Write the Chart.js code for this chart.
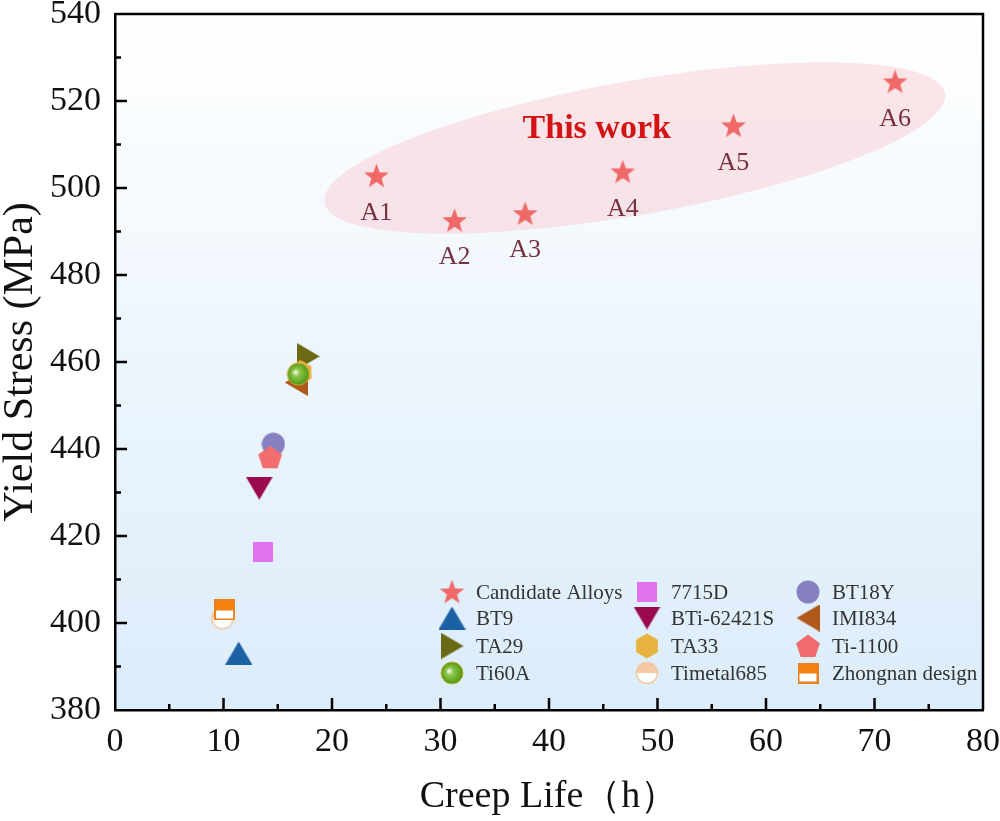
<!DOCTYPE html>
<html lang="en">
<head>
<meta charset="UTF-8">
<title>Yield Stress vs Creep Life</title>
<script src="https://cdn.jsdelivr.net/npm/chart.js"></script>
<style>
  html, body { margin: 0; padding: 0; background: #fff; }
  #wrap { width: 1000px; height: 821px; }
</style>
</head>
<body>
<div id="wrap"><canvas id="grafico"></canvas></div>
<script>
  // candidate alloys (this work)
  const candLabels = ['A1', 'A2', 'A3', 'A4', 'A5', 'A6'];
  const candCreep = [24.1, 31.3, 37.8, 46.8, 57.0, 71.9];
  const candYield = [502.8, 492.5, 494.1, 503.7, 514.3, 524.4];

  // reference alloys
  const refNames = ['BT9', 'TA29', 'Ti60A', '7715D', 'BTi-62421S', 'TA33', 'Timetal685', 'BT18Y', 'IMI834', 'Ti-1100', 'Zhongnan design'];
  const refCreep = [11.4, 17.8, 16.9, 13.6, 13.3, 17.1, 9.9, 14.6, 16.7, 14.3, 10.1];
  const refYield = [393.1, 461.3, 457.2, 416.3, 431.0, 457.6, 401.1, 441.1, 455.3, 438.1, 403.0];

  // axis ticks
  const xTicks = [0, 10, 20, 30, 40, 50, 60, 70, 80];
  const yTicks = [380, 400, 420, 440, 460, 480, 500, 520, 540];

  // legend, read column by column
  const legendCols = [
    ['Candidate Alloys', 'BT9', 'TA29', 'Ti60A'],
    ['7715D', 'BTi-62421S', 'TA33', 'Timetal685'],
    ['BT18Y', 'IMI834', 'Ti-1100', 'Zhongnan design']
  ];

  // ---- marker images ----
  function marker(w, h, paint) {
    const c = document.createElement('canvas');
    c.width = w; c.height = h;
    paint(c.getContext('2d'), w, h);
    return c;
  }
  function poly(g, pts, color) {
    g.beginPath();
    pts.forEach((p, i) => i ? g.lineTo(p[0], p[1]) : g.moveTo(p[0], p[1]));
    g.closePath();
    g.fillStyle = color;
    g.fill();
  }
  function regular(n, r, cx, cy, rot) {
    const pts = [];
    for (let i = 0; i < n; i++) {
      const a = rot + i * 2 * Math.PI / n;
      pts.push([cx + r * Math.cos(a), cy + r * Math.sin(a)]);
    }
    return pts;
  }

  const markers = {
    'Candidate Alloys': marker(27, 27, (g) => {
      const pts = [];
      for (let i = 0; i < 10; i++) {
        const r = i % 2 ? 5.4 : 13;
        const a = -Math.PI / 2 + i * Math.PI / 5;
        pts.push([13.5 + r * Math.cos(a), 14.3 + r * Math.sin(a)]);
      }
      poly(g, pts, '#ef6969');
    }),
    'BT9': marker(27, 23, (g) => poly(g, [[13.5, 0], [27, 23], [0, 23]], '#1d61a5')),
    'TA29': marker(23, 27, (g) => poly(g, [[0, 0], [23, 13.5], [0, 27]], '#6b6913')),
    'Ti60A': marker(24, 24, (g) => {
      const grad = g.createRadialGradient(9, 10, 1, 12, 12, 12);
      grad.addColorStop(0, '#e8f5d8');
      grad.addColorStop(0.25, '#8cc64a');
      grad.addColorStop(0.8, '#5b9f1c');
      grad.addColorStop(1, '#3f7a0e');
      g.beginPath(); g.arc(12, 12, 11, 0, Math.PI * 2);
      g.fillStyle = grad; g.fill();
      g.lineWidth = 1; g.strokeStyle = '#c9b33a'; g.stroke();
    }),
    '7715D': marker(20, 20, (g) => { g.fillStyle = '#e173ef'; g.fillRect(0, 0, 20, 20); }),
    'BTi-62421S': marker(27, 23, (g) => poly(g, [[0, 0], [27, 0], [13.5, 23]], '#9a0a4e')),
    'TA33': marker(24, 26, (g) => poly(g, regular(6, 12.5, 12, 13, -Math.PI / 2), '#e8b23e')),
    'Timetal685': marker(24, 24, (g) => {
      g.beginPath(); g.arc(12, 12, 10.5, 0, Math.PI * 2);
      g.fillStyle = '#ffffff'; g.fill();
      g.beginPath(); g.arc(12, 12, 10.5, Math.PI, 0); g.closePath();
      g.fillStyle = '#f5c9a3'; g.fill();
      g.beginPath(); g.arc(12, 12, 10.5, 0, Math.PI * 2);
      g.lineWidth = 1.5; g.strokeStyle = '#f1c7a0'; g.stroke();
    }),
    'BT18Y': marker(24, 24, (g) => {
      g.beginPath(); g.arc(12, 12, 11.5, 0, Math.PI * 2);
      g.fillStyle = '#8581c1'; g.fill();
    }),
    'IMI834': marker(23, 27, (g) => poly(g, [[23, 0], [0, 13.5], [23, 27]], '#b0581b')),
    'Ti-1100': marker(26, 26, (g) => poly(g, regular(5, 12.5, 13, 14, -Math.PI / 2), '#f26d6d')),
    'Zhongnan design': marker(21, 21, (g) => {
      g.fillStyle = '#ffffff'; g.fillRect(1, 1, 19, 19);
      g.fillStyle = '#f5820f'; g.fillRect(1, 1, 19, 10);
      g.lineWidth = 2; g.strokeStyle = '#e7821e'; g.strokeRect(1, 1, 19, 19);
    })
  };

  // z order: lower number ends up on top
  const zOrder = {
    'BT9': 5, 'TA29': 8, 'Ti60A': 2, '7715D': 5, 'BTi-62421S': 5, 'TA33': 7,
    'Timetal685': 6, 'BT18Y': 6, 'IMI834': 7, 'Ti-1100': 3, 'Zhongnan design': 3
  };

  const datasets = [{
    label: 'Candidate Alloys',
    data: candCreep.map((x, i) => ({ x: x, y: candYield[i] })),
    pointStyle: markers['Candidate Alloys'],
    pointRadius: 13,
    order: 1
  }];
  refNames.forEach((nome, i) => {
    datasets.push({
      label: nome,
      data: [{ x: refCreep[i], y: refYield[i] }],
      pointStyle: markers[nome],
      pointRadius: 12,
      order: zOrder[nome]
    });
  });

  const serif = '"Liberation Serif", "Times New Roman", serif';

  const fundo = {
    id: 'fundo',
    beforeDraw(chart) {
      const { ctx, chartArea: a } = chart;
      const grad = ctx.createLinearGradient(0, a.top, 0, a.bottom);
      grad.addColorStop(0, '#ffffff');
      grad.addColorStop(1, '#dbecfa');
      ctx.save();
      ctx.fillStyle = grad;
      ctx.fillRect(a.left, a.top, a.right - a.left, a.bottom - a.top);
      ctx.restore();
    },
    beforeDatasetsDraw(chart) {
      const { ctx, scales } = chart;
      // highlight ellipse around this work
      const cx = scales.x.getPixelForValue(47.9);
      const cy = scales.y.getPixelForValue(509.2);
      ctx.save();
      ctx.beginPath();
      ctx.ellipse(cx, cy, 315, 67, -10 * Math.PI / 180, 0, Math.PI * 2);
      ctx.fillStyle = 'rgba(248, 196, 202, 0.42)';
      ctx.fill();
      ctx.font = 'bold 34px ' + serif;
      ctx.fillStyle = '#d41414';
      ctx.textAlign = 'center';
      ctx.textBaseline = 'middle';
      ctx.fillText('This work', scales.x.getPixelForValue(44.4), scales.y.getPixelForValue(513.6));
      ctx.restore();
    },
    afterDraw(chart) {
      const { ctx, chartArea: a, scales } = chart;
      ctx.save();
      // top and right frame
      ctx.strokeStyle = '#000';
      ctx.lineWidth = 2.5;
      ctx.beginPath();
      ctx.moveTo(a.left, a.top);
      ctx.lineTo(a.right, a.top);
      ctx.lineTo(a.right, a.bottom);
      ctx.stroke();

      // inward ticks
      ctx.beginPath();
      for (let v = 5; v < 80; v += 5) {
        const px = scales.x.getPixelForValue(v);
        const len = v % 10 === 0 ? 12 : 6;
        ctx.moveTo(px, a.bottom);
        ctx.lineTo(px, a.bottom - len);
      }
      for (let v = 390; v < 540; v += 10) {
        const py = scales.y.getPixelForValue(v);
        const len = v % 20 === 0 ? 12 : 6;
        ctx.moveTo(a.left, py);
        ctx.lineTo(a.left + len, py);
      }
      ctx.stroke();

      // labels A1..A6
      const pts = chart.getDatasetMeta(0).data;
      ctx.font = '26px ' + serif;
      ctx.fillStyle = '#77303f';
      ctx.textAlign = 'center';
      ctx.textBaseline = 'middle';
      pts.forEach((p, i) => ctx.fillText(candLabels[i], p.x, p.y + 37));

      // legend
      const colX = [a.left + 337, a.left + 532, a.left + 693];
      const rowY = [a.top + 578, a.top + 604, a.top + 632, a.top + 659];
      ctx.font = '21px ' + serif;
      ctx.fillStyle = '#333';
      ctx.textAlign = 'left';
      legendCols.forEach((col, c) => {
        col.forEach((nome, r) => {
          const m = markers[nome];
          ctx.drawImage(m, colX[c] - m.width / 2, rowY[r] - m.height / 2);
          ctx.fillText(nome, colX[c] + 24, rowY[r] + 1);
        });
      });
      ctx.restore();
    }
  };

  new Chart(document.getElementById('grafico'), {
    type: 'scatter',
    data: { datasets: datasets },
    options: {
      responsive: true,
      maintainAspectRatio: false,
      animation: false,
      layout: { padding: { left: 0, right: 17, top: 13, bottom: 0 } },
      plugins: {
        legend: { display: false },
        tooltip: { enabled: false }
      },
      scales: {
        x: {
          type: 'linear',
          min: 0, max: 80,
          afterBuildTicks: (s) => { s.ticks = xTicks.map(v => ({ value: v })); },
          afterFit: (s) => { s.height = 111; s.paddingLeft = 0; s.paddingRight = 0; },
          grid: { display: false, drawTicks: false },
          border: { display: true, color: '#000', width: 2.5 },
          ticks: { color: '#111', font: { family: serif, size: 34 }, padding: 12, maxRotation: 0 },
          title: { display: true, text: 'Creep Life（h）', color: '#111', font: { family: serif, size: 38 }, padding: { top: 0, bottom: 1 } }
        },
        y: {
          type: 'linear',
          min: 380, max: 540,
          afterBuildTicks: (s) => { s.ticks = yTicks.map(v => ({ value: v })); },
          afterFit: (s) => { s.width = 115; s.paddingTop = 0; s.paddingBottom = 0; },
          grid: { display: false, drawTicks: false },
          border: { display: true, color: '#000', width: 2.5 },
          ticks: { color: '#111', font: { family: serif, size: 34 }, padding: 14 },
          title: { display: true, text: 'Yield Stress (MPa)', color: '#111', font: { family: serif, size: 42, lineHeight: 1.0 }, padding: { top: 0, bottom: 0 } }
        }
      }
    },
    plugins: [fundo]
  });
</script>
</body>
</html>
